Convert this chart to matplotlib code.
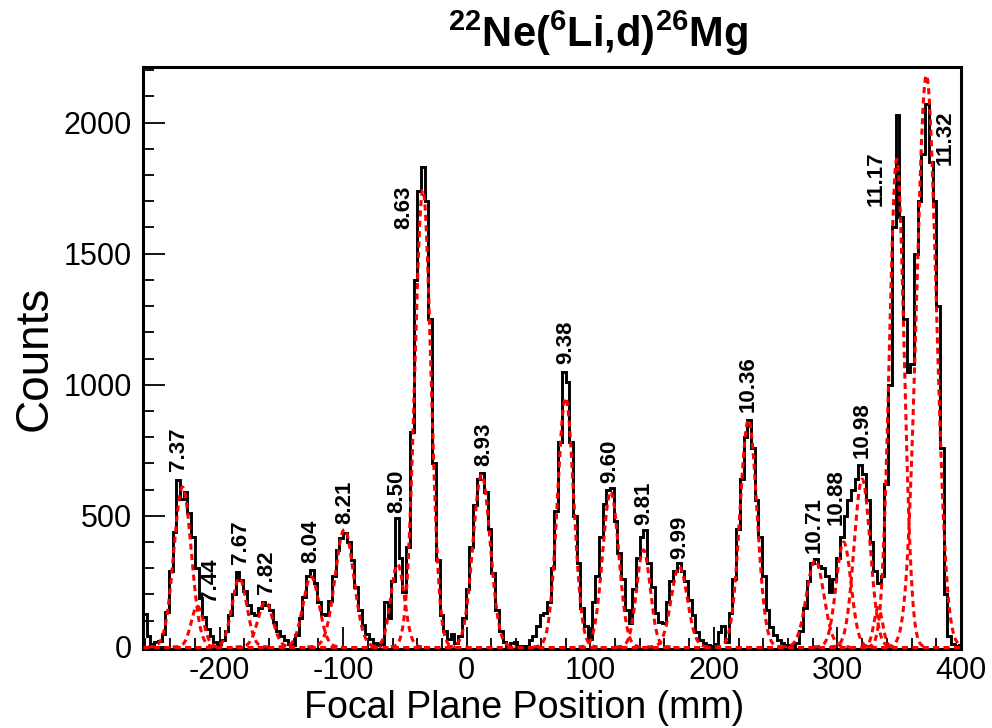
import matplotlib

matplotlib.use("Agg")
import matplotlib.pyplot as plt
import numpy as np
from matplotlib.ticker import MultipleLocator

plt.rcParams["font.family"] = ["Liberation Sans", "DejaVu Sans"]
plt.rcParams["mathtext.fontset"] = "custom"
plt.rcParams["mathtext.rm"] = "Liberation Sans"
plt.rcParams["mathtext.bf"] = "Liberation Sans:bold"
plt.rcParams["axes.unicode_minus"] = False

# focal plane histogram, 3 mm bins starting at -262 mm
bin_start = -262.0
bin_width = 3.0
counts = [
    125, 40, 12, 18, 22, 50, 135, 290, 440, 635, 565, 592, 510, 420, 300, 185, 115, 70, 40, 20, 10,
    25, 60, 120, 200, 285, 255, 215, 160, 130, 120, 150, 172, 160, 140, 95, 60, 40, 25, 12, 8,
    45, 110, 190, 270, 292, 245, 170, 125, 120, 175, 270, 370, 415, 435, 400, 330, 230, 140, 85, 50,
    30, 15, 8, 10, 170, 110, 250, 490, 340, 210, 380, 820, 1400, 1740, 1830, 1700, 1250, 700, 330, 120,
    60, 30, 50, 15, 40, 110, 220, 380, 540, 640, 662, 590, 450, 280, 140, 60, 20, 5, 15, 18,
    5, 3, 5, 25, 40, 80, 120, 130, 170, 300, 520, 780, 1050, 1010, 780, 500, 320, 150, 80, 30,
    170, 270, 420, 545, 600, 605, 480, 360, 260, 140, 90, 220, 340, 420, 445, 320, 230, 130, 95, 90,
    170, 250, 290, 320, 290, 250, 180, 120, 55, 25, 15, 8, 3, 10, 55, 80, 20, 130, 260, 450,
    640, 800, 866, 760, 560, 420, 270, 140, 75, 45, 25, 15, 8, 5, 3, 15, 60, 150, 250, 320,
    335, 310, 300, 270, 210, 260, 340, 420, 500, 560, 600, 640, 695, 660, 560, 400, 290, 245, 270, 620,
    1000, 1600, 2030, 1640, 1250, 1050, 1080, 1500, 1700, 1880, 2070, 1850, 1700, 1300, 760, 200, 40, 10, 5, 8,
]

# gaussian fit components: centroid (mm), height (counts), sigma (mm)
fit_centers = [-230, -218, -184, -163, -126, -99, -56, -35.5, 12, 80,
               116.5, 143, 172, 228, 282, 305, 320, 333, 348, 372]
fit_heights = [610, 155, 262, 172, 268, 448, 315, 1743, 656, 950,
               592, 370, 306, 866, 330, 400, 640, 150, 1860, 2180]
fit_sigmas = [7.0, 5.0, 6.0, 6.0, 6.5, 7.5, 5.5, 6.5, 7.0, 6.5,
              6.5, 5.5, 6.5, 6.8, 7.0, 6.0, 6.5, 3.5, 6.0, 8.0]
background_level = 0

# excitation energy labels (MeV); y is the lower end of the rotated text
label_text = ["7.37", "7.44", "7.67", "7.82", "8.04", "8.21", "8.50", "8.63", "8.93", "9.38",
              "9.60", "9.81", "9.99", "10.36", "10.71", "10.88", "10.98", "11.17", "11.32"]
label_x = [-233, -207, -183, -162, -126, -99, -57, -51, 14, 80,
           116, 143, 172, 228, 281, 299, 320, 331, 387]
label_y = [670, 170, 315, 200, 320, 470, 510, 1595, 690, 1080,
           625, 465, 335, 895, 360, 465, 720, 1680, 1840]

edges = bin_start + bin_width * np.arange(len(counts) + 1)

fig = plt.figure(figsize=(9.92, 7.28), dpi=100)
ax = fig.add_axes([143 / 992, 79 / 728, 818 / 992, 582 / 728])

dash = (0, (2.0, 1.4))
ax.axhline(background_level, color="red", lw=2.2, linestyle=dash, zorder=3)
for c, h, s in zip(fit_centers, fit_heights, fit_sigmas):
    xs = np.linspace(c - 4 * s, c + 4 * s, 200)
    ax.plot(xs, h * np.exp(-0.5 * ((xs - c) / s) ** 2), color="red", lw=2.2,
            linestyle=dash, zorder=3)

ax.stairs(counts, edges, color="black", lw=2.1, zorder=2)

for t, x, y in zip(label_text, label_x, label_y):
    ax.text(x, y, t, rotation=90, ha="center", va="bottom", fontsize=16,
            fontweight="bold")

ax.set_xlim(-262, 400)
ax.set_ylim(-8, 2212)
ax.set_xticks(range(-200, 401, 100))
ax.set_yticks(range(0, 2001, 500))
ax.xaxis.set_minor_locator(MultipleLocator(20))
ax.yaxis.set_minor_locator(MultipleLocator(100))
ax.tick_params(which="both", direction="in", top=False, right=False, width=1.3,
               labelsize=22)
ax.tick_params(which="major", length=16)
ax.tick_params(which="minor", length=8)
ax.tick_params(axis="y", pad=8)
ax.tick_params(axis="x", pad=5)
for sp in ax.spines.values():
    sp.set_linewidth(2.2)

fig.text(524 / 992, 1 - 708 / 728, "Focal Plane Position (mm)", ha="center",
         va="center", fontsize=27)
fig.text(35 / 992, 1 - 358 / 728, "Counts", ha="center", va="center",
         rotation=90, fontsize=33)
fig.text(598 / 992, 1 - 33 / 728, r"$\mathbf{^{22}Ne(^{6}Li{,}d)^{26}Mg}$",
         ha="center", va="center", fontsize=30)

fig.savefig("out.png", dpi=100)
